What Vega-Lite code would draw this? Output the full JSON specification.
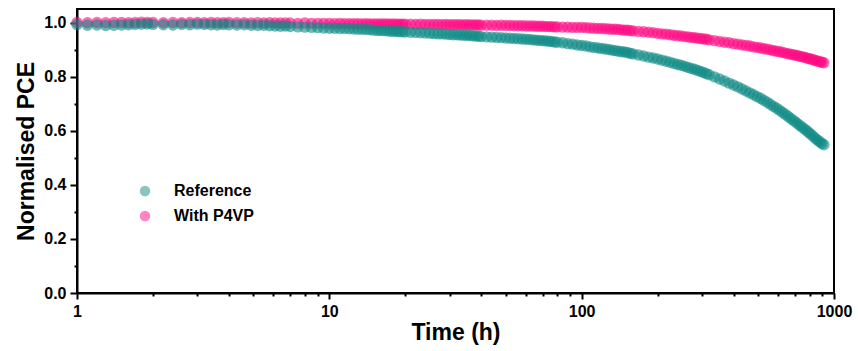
{
"$schema": "https://vega.github.io/schema/vega-lite/v6.json",
"width": 757, "height": 284,
"autosize": {"type": "none"},
"padding": {"left": 77, "top": 9, "right": 24, "bottom": 58},
"background": "white",
"config": {"view": {"stroke": "black", "strokeWidth": 2}, "font": "Liberation Sans"},
"data": {"values": [
{"t":1,"Reference":0.992,"With P4VP":1.0},
{"t":1.1,"Reference":0.990,"With P4VP":0.999},
{"t":1.2,"Reference":0.991,"With P4VP":1.0},
{"t":1.3,"Reference":0.989,"With P4VP":0.999},
{"t":1.4,"Reference":0.990,"With P4VP":1.0},
{"t":1.5,"Reference":0.991,"With P4VP":1.0},
{"t":1.6,"Reference":0.992,"With P4VP":0.999},
{"t":1.7,"Reference":0.993,"With P4VP":1.0},
{"t":1.8,"Reference":0.994,"With P4VP":1.001},
{"t":1.9,"Reference":0.995,"With P4VP":1.0},
{"t":2.0,"Reference":0.993,"With P4VP":1.0},
{"t":2.2,"Reference":0.992,"With P4VP":0.999},
{"t":2.4,"Reference":0.991,"With P4VP":1.0},
{"t":2.6,"Reference":0.993,"With P4VP":0.999},
{"t":2.8,"Reference":0.992,"With P4VP":1.0},
{"t":3.0,"Reference":0.994,"With P4VP":1.0},
{"t":3.2,"Reference":0.993,"With P4VP":0.999},
{"t":3.4,"Reference":0.992,"With P4VP":1.0},
{"t":3.6,"Reference":0.991,"With P4VP":0.999},
{"t":3.8,"Reference":0.993,"With P4VP":0.999},
{"t":4.0,"Reference":0.992,"With P4VP":1.0},
{"t":4.3,"Reference":0.991,"With P4VP":0.999},
{"t":4.6,"Reference":0.992,"With P4VP":0.999},
{"t":4.9,"Reference":0.990,"With P4VP":0.998},
{"t":5.2,"Reference":0.989,"With P4VP":0.999},
{"t":5.5,"Reference":0.990,"With P4VP":0.998},
{"t":5.8,"Reference":0.988,"With P4VP":0.999},
{"t":6.1,"Reference":0.987,"With P4VP":0.998},
{"t":6.4,"Reference":0.986,"With P4VP":0.998},
{"t":6.7,"Reference":0.987,"With P4VP":0.998},
{"t":7.0,"Reference":0.985,"With P4VP":0.998},
{"t":7.5,"Reference":0.984,"With P4VP":0.997},
{"t":8.0,"Reference":0.983,"With P4VP":0.998},
{"t":8.5,"Reference":0.982,"With P4VP":0.997},
{"t":9.0,"Reference":0.981,"With P4VP":0.997},
{"t":9.5,"Reference":0.980,"With P4VP":0.997},
{"t":10,"Reference":0.979,"With P4VP":0.997},
{"t":10.5,"Reference":0.979,"With P4VP":0.996},
{"t":11,"Reference":0.978,"With P4VP":0.997},
{"t":11.5,"Reference":0.978,"With P4VP":0.996},
{"t":12,"Reference":0.977,"With P4VP":0.996},
{"t":12.5,"Reference":0.976,"With P4VP":0.996},
{"t":13,"Reference":0.975,"With P4VP":0.996},
{"t":13.5,"Reference":0.975,"With P4VP":0.995},
{"t":14,"Reference":0.974,"With P4VP":0.996},
{"t":14.5,"Reference":0.973,"With P4VP":0.995},
{"t":15,"Reference":0.972,"With P4VP":0.995},
{"t":15.5,"Reference":0.971,"With P4VP":0.995},
{"t":16,"Reference":0.970,"With P4VP":0.995},
{"t":16.5,"Reference":0.970,"With P4VP":0.995},
{"t":17,"Reference":0.969,"With P4VP":0.995},
{"t":17.5,"Reference":0.968,"With P4VP":0.994},
{"t":18,"Reference":0.968,"With P4VP":0.995},
{"t":18.5,"Reference":0.967,"With P4VP":0.994},
{"t":19,"Reference":0.966,"With P4VP":0.994},
{"t":19.5,"Reference":0.966,"With P4VP":0.994},
{"t":20,"Reference":0.965,"With P4VP":0.994},
{"t":21,"Reference":0.964,"With P4VP":0.994},
{"t":22,"Reference":0.963,"With P4VP":0.993},
{"t":23,"Reference":0.962,"With P4VP":0.994},
{"t":24,"Reference":0.961,"With P4VP":0.993},
{"t":25,"Reference":0.960,"With P4VP":0.993},
{"t":26,"Reference":0.959,"With P4VP":0.993},
{"t":27,"Reference":0.958,"With P4VP":0.993},
{"t":28,"Reference":0.958,"With P4VP":0.992},
{"t":29,"Reference":0.957,"With P4VP":0.993},
{"t":30,"Reference":0.956,"With P4VP":0.992},
{"t":31,"Reference":0.955,"With P4VP":0.992},
{"t":32,"Reference":0.955,"With P4VP":0.992},
{"t":33,"Reference":0.954,"With P4VP":0.992},
{"t":34,"Reference":0.953,"With P4VP":0.991},
{"t":35,"Reference":0.953,"With P4VP":0.992},
{"t":36,"Reference":0.952,"With P4VP":0.991},
{"t":37,"Reference":0.951,"With P4VP":0.991},
{"t":38,"Reference":0.950,"With P4VP":0.991},
{"t":39,"Reference":0.949,"With P4VP":0.991},
{"t":40,"Reference":0.948,"With P4VP":0.990},
{"t":42,"Reference":0.947,"With P4VP":0.990},
{"t":44,"Reference":0.946,"With P4VP":0.990},
{"t":46,"Reference":0.945,"With P4VP":0.989},
{"t":48,"Reference":0.944,"With P4VP":0.990},
{"t":50,"Reference":0.943,"With P4VP":0.989},
{"t":52,"Reference":0.942,"With P4VP":0.989},
{"t":54,"Reference":0.941,"With P4VP":0.988},
{"t":56,"Reference":0.940,"With P4VP":0.988},
{"t":58,"Reference":0.939,"With P4VP":0.988},
{"t":60,"Reference":0.938,"With P4VP":0.987},
{"t":62,"Reference":0.937,"With P4VP":0.987},
{"t":64,"Reference":0.936,"With P4VP":0.987},
{"t":66,"Reference":0.935,"With P4VP":0.986},
{"t":68,"Reference":0.934,"With P4VP":0.986},
{"t":70,"Reference":0.933,"With P4VP":0.986},
{"t":72,"Reference":0.932,"With P4VP":0.985},
{"t":74,"Reference":0.931,"With P4VP":0.985},
{"t":76,"Reference":0.930,"With P4VP":0.985},
{"t":78,"Reference":0.928,"With P4VP":0.984},
{"t":80,"Reference":0.927,"With P4VP":0.984},
{"t":84,"Reference":0.925,"With P4VP":0.983},
{"t":88,"Reference":0.922,"With P4VP":0.983},
{"t":92,"Reference":0.920,"With P4VP":0.982},
{"t":96,"Reference":0.917,"With P4VP":0.982},
{"t":100,"Reference":0.915,"With P4VP":0.982},
{"t":104,"Reference":0.913,"With P4VP":0.981},
{"t":108,"Reference":0.910,"With P4VP":0.980},
{"t":112,"Reference":0.908,"With P4VP":0.979},
{"t":116,"Reference":0.906,"With P4VP":0.978},
{"t":120,"Reference":0.904,"With P4VP":0.978},
{"t":124,"Reference":0.902,"With P4VP":0.977},
{"t":128,"Reference":0.900,"With P4VP":0.976},
{"t":132,"Reference":0.898,"With P4VP":0.975},
{"t":136,"Reference":0.896,"With P4VP":0.975},
{"t":140,"Reference":0.894,"With P4VP":0.974},
{"t":144,"Reference":0.892,"With P4VP":0.973},
{"t":148,"Reference":0.891,"With P4VP":0.972},
{"t":152,"Reference":0.889,"With P4VP":0.972},
{"t":156,"Reference":0.886,"With P4VP":0.970},
{"t":160,"Reference":0.884,"With P4VP":0.969},
{"t":168,"Reference":0.880,"With P4VP":0.967},
{"t":176,"Reference":0.876,"With P4VP":0.966},
{"t":184,"Reference":0.872,"With P4VP":0.964},
{"t":192,"Reference":0.869,"With P4VP":0.962},
{"t":200,"Reference":0.865,"With P4VP":0.960},
{"t":208,"Reference":0.861,"With P4VP":0.958},
{"t":216,"Reference":0.857,"With P4VP":0.957},
{"t":224,"Reference":0.853,"With P4VP":0.955},
{"t":232,"Reference":0.849,"With P4VP":0.953},
{"t":240,"Reference":0.845,"With P4VP":0.951},
{"t":248,"Reference":0.842,"With P4VP":0.950},
{"t":256,"Reference":0.838,"With P4VP":0.948},
{"t":264,"Reference":0.834,"With P4VP":0.947},
{"t":272,"Reference":0.830,"With P4VP":0.945},
{"t":280,"Reference":0.827,"With P4VP":0.944},
{"t":288,"Reference":0.823,"With P4VP":0.942},
{"t":296,"Reference":0.819,"With P4VP":0.941},
{"t":304,"Reference":0.815,"With P4VP":0.939},
{"t":312,"Reference":0.811,"With P4VP":0.938},
{"t":320,"Reference":0.807,"With P4VP":0.936},
{"t":336,"Reference":0.799,"With P4VP":0.933},
{"t":352,"Reference":0.791,"With P4VP":0.930},
{"t":368,"Reference":0.784,"With P4VP":0.927},
{"t":384,"Reference":0.776,"With P4VP":0.925},
{"t":400,"Reference":0.769,"With P4VP":0.922},
{"t":416,"Reference":0.762,"With P4VP":0.920},
{"t":432,"Reference":0.754,"With P4VP":0.917},
{"t":448,"Reference":0.747,"With P4VP":0.915},
{"t":464,"Reference":0.740,"With P4VP":0.913},
{"t":480,"Reference":0.733,"With P4VP":0.910},
{"t":496,"Reference":0.726,"With P4VP":0.908},
{"t":512,"Reference":0.719,"With P4VP":0.906},
{"t":528,"Reference":0.712,"With P4VP":0.903},
{"t":544,"Reference":0.705,"With P4VP":0.901},
{"t":560,"Reference":0.697,"With P4VP":0.899},
{"t":576,"Reference":0.690,"With P4VP":0.896},
{"t":592,"Reference":0.683,"With P4VP":0.894},
{"t":608,"Reference":0.676,"With P4VP":0.892},
{"t":624,"Reference":0.668,"With P4VP":0.890},
{"t":640,"Reference":0.661,"With P4VP":0.887},
{"t":656,"Reference":0.654,"With P4VP":0.885},
{"t":672,"Reference":0.646,"With P4VP":0.883},
{"t":688,"Reference":0.639,"With P4VP":0.881},
{"t":704,"Reference":0.632,"With P4VP":0.879},
{"t":720,"Reference":0.625,"With P4VP":0.877},
{"t":736,"Reference":0.618,"With P4VP":0.875},
{"t":752,"Reference":0.611,"With P4VP":0.873},
{"t":768,"Reference":0.605,"With P4VP":0.871},
{"t":784,"Reference":0.598,"With P4VP":0.868},
{"t":800,"Reference":0.591,"With P4VP":0.866},
{"t":816,"Reference":0.584,"With P4VP":0.864},
{"t":832,"Reference":0.577,"With P4VP":0.862},
{"t":848,"Reference":0.570,"With P4VP":0.859},
{"t":864,"Reference":0.564,"With P4VP":0.857},
{"t":880,"Reference":0.558,"With P4VP":0.855},
{"t":896,"Reference":0.553,"With P4VP":0.853},
{"t":912,"Reference":0.548,"With P4VP":0.851}
]},
"transform": [{"fold": ["Reference", "With P4VP"], "as": ["series", "pce"]}],
"mark": {"type": "circle", "size": 130, "opacity": 0.6},
"encoding": {
  "x": {"field": "t", "type": "quantitative",
    "scale": {"type": "log", "domain": [1, 1000]},
    "axis": {"title": "Time (h)",
      "values": [1,2,3,4,5,6,7,8,9,10,20,30,40,50,60,70,80,90,100,200,300,400,500,600,700,800,900,1000],
      "labelExpr": "indexof([1,10,100,1000], datum.value) >= 0 ? format(datum.value, 'd') : ''",
      "tickSize": {"condition": {"test": "indexof([1,10,100,1000], datum.value) >= 0", "value": 6}, "value": 3},
      "tickWidth": 2, "tickColor": "black", "domainColor": "black", "domainWidth": 2,
      "labelFontSize": 16, "labelFontWeight": "bold", "labelColor": "black", "labelPadding": 4,
      "labelFlush": false, "labelOverlap": false,
      "titleFontSize": 23, "titleFontWeight": "bold", "titleColor": "black", "titlePadding": 2,
      "grid": false}},
  "y": {"field": "pce", "type": "quantitative",
    "scale": {"domain": [0, 1.05], "nice": false, "zero": true},
    "axis": {"title": "Normalised PCE",
      "values": [0,0.1,0.2,0.3,0.4,0.5,0.6,0.7,0.8,0.9,1.0],
      "labelExpr": "round(datum.value*10) % 2 == 0 ? format(datum.value, '.1f') : ''",
      "tickSize": {"condition": {"test": "round(datum.value*10) % 2 == 0", "value": 7}, "value": 3},
      "tickWidth": 2, "tickColor": "black", "domainColor": "black", "domainWidth": 2,
      "labelFontSize": 16, "labelFontWeight": "bold", "labelColor": "black", "labelPadding": 4,
      "labelFlush": false, "labelOverlap": false,
      "titleFontSize": 23, "titleFontWeight": "bold", "titleColor": "black", "titlePadding": 5,
      "grid": false}},
  "color": {"field": "series", "type": "nominal",
    "scale": {"domain": ["Reference", "With P4VP"], "range": ["#0f8a85", "#ff0a84"]},
    "legend": {"title": null, "orient": "none", "legendX": 60, "legendY": 174,
      "padding": 0, "symbolSize": 110, "symbolOpacity": 0.5, "symbolType": "circle", "symbolStrokeWidth": 0,
      "labelFontSize": 16, "labelFontWeight": "bold", "labelColor": "black", "labelOffset": 21,
      "rowPadding": 9}},
  "order": {"field": "series", "sort": "descending"}
}
}
